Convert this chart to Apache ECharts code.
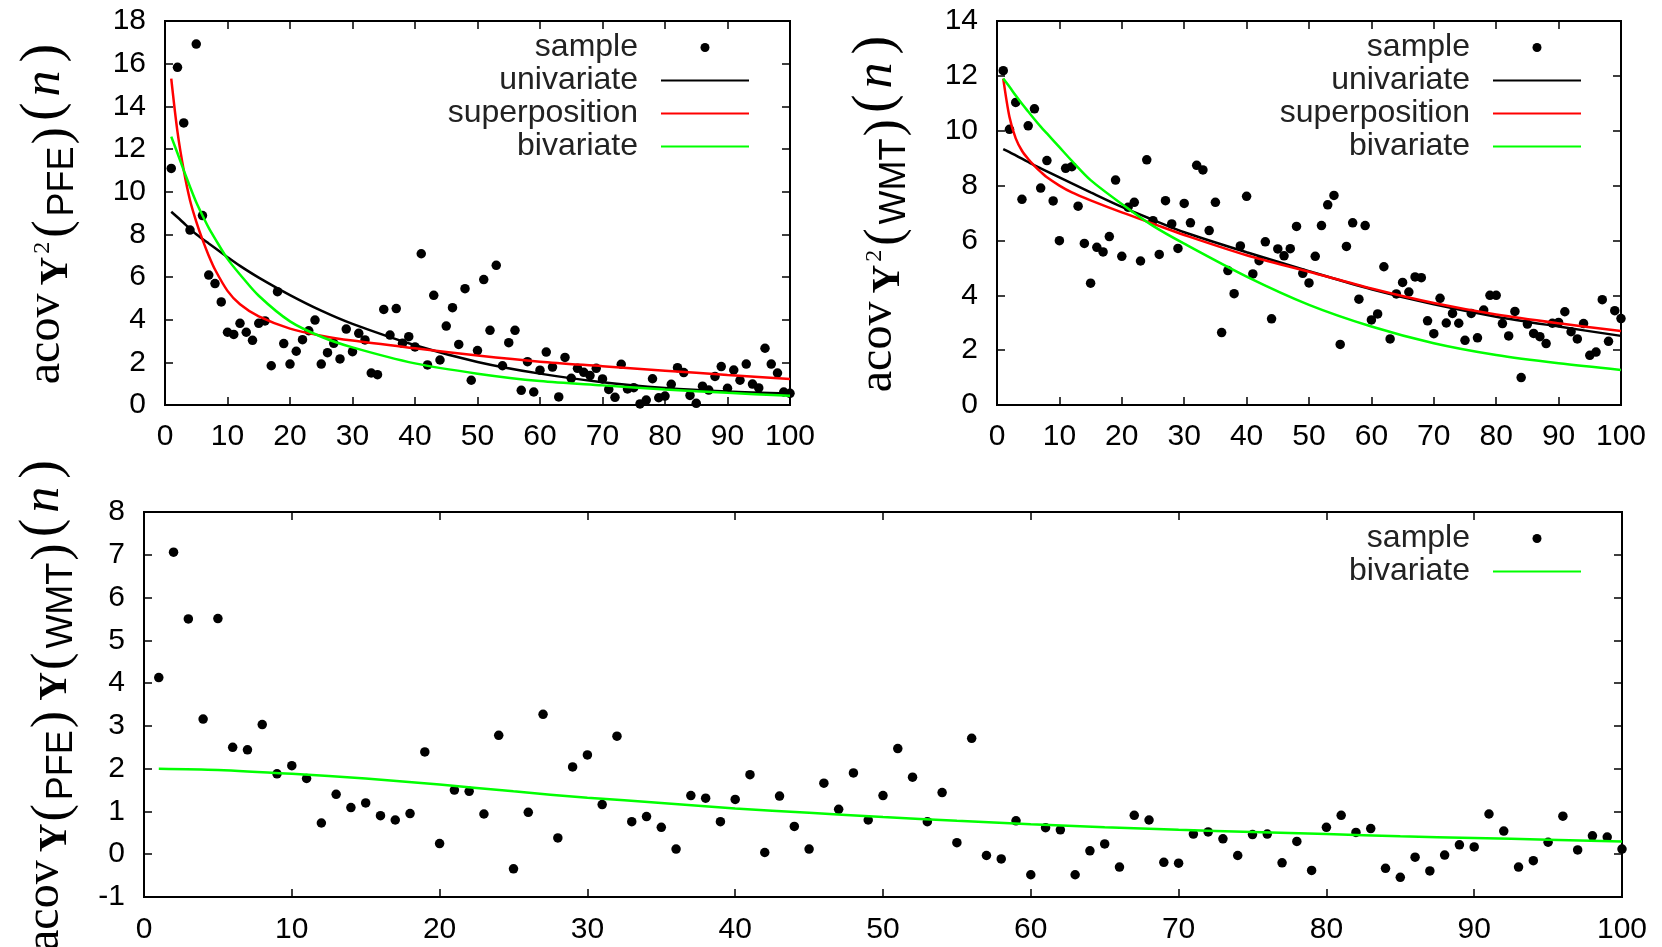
<!DOCTYPE html>
<html>
<head>
<meta charset="utf-8">
<script src="https://cdn.jsdelivr.net/npm/echarts@6/dist/echarts.min.js"></script>
<style>
  html, body { margin: 0; padding: 0; background: #fff; }
  #chart { width: 1662px; height: 947px; }
</style>
</head>
<body>
<div id="chart"></div>
<script>
// Lags n of the sample autocovariances
const lags = [
  1, 2, 3, 4, 5, 6, 7, 8, 9, 10, 11, 12, 13, 14, 15, 16, 17, 18, 19, 20,
  21, 22, 23, 24, 25, 26, 27, 28, 29, 30, 31, 32, 33, 34, 35, 36, 37, 38, 39, 40,
  41, 42, 43, 44, 45, 46, 47, 48, 49, 50, 51, 52, 53, 54, 55, 56, 57, 58, 59, 60,
  61, 62, 63, 64, 65, 66, 67, 68, 69, 70, 71, 72, 73, 74, 75, 76, 77, 78, 79, 80,
  81, 82, 83, 84, 85, 86, 87, 88, 89, 90, 91, 92, 93, 94, 95, 96, 97, 98, 99, 100
];

// Sample autocovariance of Y^2 for PFE
const pfeSample = [
  11.09, 15.83, 13.22, 8.20, 16.92, 8.88, 6.09, 5.69, 4.83, 3.41,
  3.31, 3.83, 3.41, 3.03, 3.83, 3.94, 1.84, 5.31, 2.88, 1.92,
  2.52, 3.06, 3.48, 3.98, 1.92, 2.45, 2.89, 2.16, 3.56, 2.50,
  3.36, 3.05, 1.50, 1.42, 4.48, 3.28, 4.52, 2.89, 3.20, 2.72,
  7.09, 1.88, 5.14, 2.11, 3.70, 4.56, 2.84, 5.45, 1.16, 2.55,
  5.88, 3.50, 6.55, 1.84, 2.92, 3.50, 0.69, 2.03, 0.61, 1.63,
  2.48, 1.78, 0.38, 2.23, 1.25, 1.72, 1.53, 1.38, 1.72, 1.22,
  0.73, 0.36, 1.91, 0.75, 0.81, 0.05, 0.23, 1.23, 0.34, 0.42,
  0.97, 1.75, 1.52, 0.45, 0.08, 0.88, 0.70, 1.34, 1.80, 0.78,
  1.64, 1.16, 1.92, 0.98, 0.80, 2.66, 1.92, 1.50, 0.61, 0.55
];

// Sample autocovariance of Y^2 for WMT
const wmtSample = [
  12.19, 10.05, 11.03, 7.50, 10.18, 10.80, 7.91, 8.91, 7.44, 5.99,
  8.63, 8.69, 7.25, 5.89, 4.44, 5.75, 5.58, 6.14, 8.20, 5.42,
  7.21, 7.39, 5.25, 8.94, 6.72, 5.49, 7.45, 6.60, 5.71, 7.35,
  6.64, 8.74, 8.57, 6.36, 7.39, 2.64, 4.90, 4.06, 5.80, 7.61,
  4.78, 5.26, 5.95, 3.14, 5.69, 5.44, 5.70, 6.51, 4.80, 4.45,
  5.42, 6.54, 7.30, 7.64, 2.21, 5.78, 6.64, 3.86, 6.54, 3.10,
  3.32, 5.04, 2.41, 4.05, 4.47, 4.12, 4.67, 4.64, 3.07, 2.60,
  3.89, 2.99, 3.34, 2.98, 2.36, 3.34, 2.45, 3.46, 4.00, 4.00,
  2.97, 2.52, 3.41, 1.00, 2.95, 2.61, 2.49, 2.24, 2.98, 3.01,
  3.40, 2.67, 2.41, 2.97, 1.81, 1.93, 3.84, 2.32, 3.44, 3.15
];

// Sample cross autocovariance Y(PFE) Y(WMT)
const crossSample = [
  4.13, 7.06, 5.50, 3.16, 5.51, 2.50, 2.44, 3.03, 1.88, 2.07,
  1.77, 0.73, 1.40, 1.09, 1.20, 0.90, 0.80, 0.95, 2.39, 0.25,
  1.50, 1.47, 0.94, 2.78, -0.34, 0.98, 3.27, 0.38, 2.04, 2.32,
  1.16, 2.76, 0.76, 0.88, 0.63, 0.12, 1.37, 1.31, 0.76, 1.28,
  1.86, 0.04, 1.36, 0.65, 0.12, 1.66, 1.05, 1.90, 0.80, 1.37,
  2.47, 1.80, 0.76, 1.44, 0.27, 2.71, -0.03, -0.11, 0.78, -0.48,
  0.62, 0.57, -0.48, 0.08, 0.24, -0.30, 0.91, 0.80, -0.19, -0.21,
  0.47, 0.52, 0.36, -0.03, 0.46, 0.47, -0.20, 0.30, -0.38, 0.63,
  0.91, 0.51, 0.60, -0.33, -0.54, -0.07, -0.39, -0.02, 0.22, 0.17,
  0.94, 0.54, -0.30, -0.15, 0.28, 0.89, 0.10, 0.43, 0.40, 0.12
];

// Model autocovariances, tabulated at these lags
const fitLags = [1, 2, 3, 4, 5, 6, 7, 8, 10, 12, 15, 20, 25, 30, 40, 50, 60, 70, 80, 90, 100];

const pfeUnivariate    = [9.06, 8.80, 8.53, 8.26, 8.00, 7.78, 7.57, 7.36, 6.93, 6.52, 5.97, 5.15, 4.42, 3.80, 2.80, 2.02, 1.47, 1.07, 0.80, 0.63, 0.53];
const pfeSuperposition = [15.3, 12.8, 11.0, 9.60, 8.60, 7.75, 7.00, 6.35, 5.35, 4.72, 4.15, 3.58, 3.25, 3.02, 2.66, 2.32, 2.03, 1.82, 1.61, 1.41, 1.22];
const pfeBivariate     = [12.58, 11.8, 11.0, 10.23, 9.50, 8.88, 8.30, 7.80, 6.85, 6.12, 5.12, 3.92, 3.20, 2.70, 1.95, 1.47, 1.12, 0.92, 0.73, 0.57, 0.43];

const wmtUnivariate    = [9.33, 9.22, 9.10, 8.98, 8.86, 8.74, 8.63, 8.52, 8.30, 8.08, 7.75, 7.22, 6.75, 6.30, 5.57, 4.88, 4.22, 3.67, 3.22, 2.86, 2.52];
const wmtSuperposition = [11.9, 10.5, 9.72, 9.27, 8.97, 8.72, 8.50, 8.30, 8.00, 7.75, 7.46, 7.02, 6.61, 6.20, 5.46, 4.86, 4.25, 3.72, 3.30, 2.98, 2.70];
const wmtBivariate     = [11.9, 11.6, 11.28, 10.98, 10.70, 10.42, 10.15, 9.90, 9.40, 8.90, 8.20, 7.33, 6.53, 5.88, 4.68, 3.65, 2.86, 2.25, 1.82, 1.52, 1.28];

const crossLags = [1, 5, 10, 15, 20, 25, 30, 35, 40, 45, 50, 55, 60, 65, 70, 75, 80, 85, 90, 95, 100];
const crossBivariate = [2.00, 1.97, 1.88, 1.77, 1.63, 1.47, 1.32, 1.20, 1.07, 0.97, 0.87, 0.78, 0.70, 0.63, 0.57, 0.52, 0.47, 0.42, 0.38, 0.34, 0.30];

const SANS = '"Liberation Sans", Arial, Helvetica, sans-serif';
const SERIF = '"Liberation Serif", "Times New Roman", serif';
const INK = '#000';
const RED = '#ff0000';
const GREEN = '#00ff00';

const pairs = (xs, ys) => xs.map((x, i) => [x, ys[i]]);

// Rich styles for the y-axis titles (acov with bold subscripts)
const titleRich = {
  a: { fontFamily: SERIF, fontSize: 48, color: INK, verticalAlign: 'bottom', padding: [0, 0, 17, 0] },
  y: { fontFamily: SERIF, fontSize: 40, fontWeight: 'bold', color: INK, verticalAlign: 'bottom', padding: [0, 0, 10, 8] },
  s: { fontFamily: SERIF, fontSize: 24, color: INK, verticalAlign: 'bottom', padding: [0, 2, 32, 3] },
  p: { fontFamily: SERIF, fontSize: 52, color: INK, verticalAlign: 'bottom', padding: [0, 2, 7, 2] },
  t: { fontFamily: SANS, fontSize: 36, color: INK, verticalAlign: 'bottom', padding: [0, 0, 6, 2] },
  q: { fontFamily: SERIF, fontSize: 56, color: INK, verticalAlign: 'bottom', padding: [0, 2, 15, 4] },
  n: { fontFamily: SERIF, fontSize: 52, fontStyle: 'italic', color: INK, verticalAlign: 'bottom', padding: [0, 4, 16, 4] }
};

const pfeTitle = '{a|acov}{y|Y}{s|2}{p|(}{t|PFE}{p|)}{q|(}{n|n}{q|)}';
const wmtTitle = '{a|acov}{y|Y}{s|2}{p|(}{t|WMT}{p|)}{q|(}{n|n}{q|)}';
const crossTitle = '{a|acov}{y|Y}{p|(}{t|PFE}{p|)}{y|Y}{p|(}{t|WMT}{p|)}{q|(}{n|n}{q|)}';

function xBottom(gridIndex, margin) {
  return {
    type: 'value', gridIndex, position: 'bottom', min: 0, max: 100, interval: 10,
    axisLine: { show: false, onZero: false },
    axisTick: { inside: true, length: 8, lineStyle: { color: INK, width: 1.5 } },
    axisLabel: { fontFamily: SANS, fontSize: 30, color: INK, margin },
    splitLine: { show: false }
  };
}
function xTop(gridIndex) {
  return {
    type: 'value', gridIndex, position: 'top', min: 0, max: 100, interval: 10,
    axisLine: { show: false, onZero: false },
    axisTick: { inside: true, length: 8, lineStyle: { color: INK, width: 1.5 } },
    axisLabel: { show: false },
    splitLine: { show: false }
  };
}
function yLeft(gridIndex, min, max, interval, title, gap) {
  return {
    type: 'value', gridIndex, position: 'left', min, max, interval,
    name: title, nameLocation: 'middle', nameRotate: 90, nameGap: gap,
    nameTextStyle: { rich: titleRich },
    axisLine: { show: false, onZero: false },
    axisTick: { inside: true, length: 8, lineStyle: { color: INK, width: 1.5 } },
    axisLabel: { fontFamily: SANS, fontSize: 30, color: INK, margin: 19 },
    splitLine: { show: false }
  };
}
function yRight(gridIndex, min, max, interval) {
  return {
    type: 'value', gridIndex, position: 'right', min, max, interval,
    axisLine: { show: false, onZero: false },
    axisTick: { inside: true, length: 8, lineStyle: { color: INK, width: 1.5 } },
    axisLabel: { show: false },
    splitLine: { show: false }
  };
}

function sampleSeries(axisIndex, values) {
  return {
    type: 'scatter', name: 'sample', xAxisIndex: axisIndex, yAxisIndex: axisIndex,
    data: pairs(lags, values), symbol: 'circle', symbolSize: 9.5,
    itemStyle: { color: INK, opacity: 1 }, silent: true
  };
}
function fitSeries(axisIndex, name, xs, ys, color) {
  return {
    type: 'line', name, xAxisIndex: axisIndex, yAxisIndex: axisIndex,
    data: pairs(xs, ys), symbol: 'none', showSymbol: false,
    smooth: 0.3,
    lineStyle: { color, width: 2.5 }, itemStyle: { color }, silent: true
  };
}

// Key entries: a dot for the sample, a plain stroke for each model
function legendFor(names, right, top) {
  return {
    data: names.map(name => name === 'sample'
      ? { name }
      : { name, itemStyle: { opacity: 0, color: 'transparent', borderWidth: 0 } }),
    orient: 'vertical', align: 'right', right, top, padding: 0,
    itemWidth: 88, itemHeight: 9, itemGap: 0, selectedMode: false,
    textStyle: { fontFamily: SANS, fontSize: 32, color: '#222', lineHeight: 33, padding: [0, 18, 0, 0] }
  };
}

// Fixed plot frames; the axis titles may run past the page edge
function frame(left, top, width, height) {
  return {
    left, top, width, height, outerBoundsMode: 'none', containLabel: false,
    show: true, borderColor: INK, borderWidth: 2, backgroundColor: 'transparent'
  };
}

const chart = echarts.init(document.getElementById('chart'), null, { renderer: 'canvas' });

chart.setOption({
  animation: false,
  backgroundColor: '#fff',
  textStyle: { fontFamily: SANS },
  grid: [
    frame(165, 21, 625, 384),
    frame(997, 21, 624, 384),
    frame(144, 512, 1478, 385)
  ],
  xAxis: [xBottom(0, 17), xBottom(1, 17), xBottom(2, 18), xTop(0), xTop(1), xTop(2)],
  yAxis: [
    yLeft(0, 0, 18, 2, pfeTitle, 78),
    yLeft(1, 0, 14, 2, wmtTitle, 78),
    yLeft(2, -1, 8, 1, crossTitle, 58),
    yRight(0, 0, 18, 2), yRight(1, 0, 14, 2), yRight(2, -1, 8, 1)
  ],
  legend: [
    legendFor(['sample', 'univariate', 'superposition', 'bivariate'], 912, 31),
    legendFor(['sample', 'univariate', 'superposition', 'bivariate'], 80, 31),
    legendFor(['sample', 'bivariate'], 80, 522)
  ],
  series: [
    sampleSeries(0, pfeSample),
    fitSeries(0, 'univariate', fitLags, pfeUnivariate, INK),
    fitSeries(0, 'superposition', fitLags, pfeSuperposition, RED),
    fitSeries(0, 'bivariate', fitLags, pfeBivariate, GREEN),

    sampleSeries(1, wmtSample),
    fitSeries(1, 'univariate', fitLags, wmtUnivariate, INK),
    fitSeries(1, 'superposition', fitLags, wmtSuperposition, RED),
    fitSeries(1, 'bivariate', fitLags, wmtBivariate, GREEN),

    sampleSeries(2, crossSample),
    fitSeries(2, 'bivariate', crossLags, crossBivariate, GREEN)
  ]
});
</script>
</body>
</html>
